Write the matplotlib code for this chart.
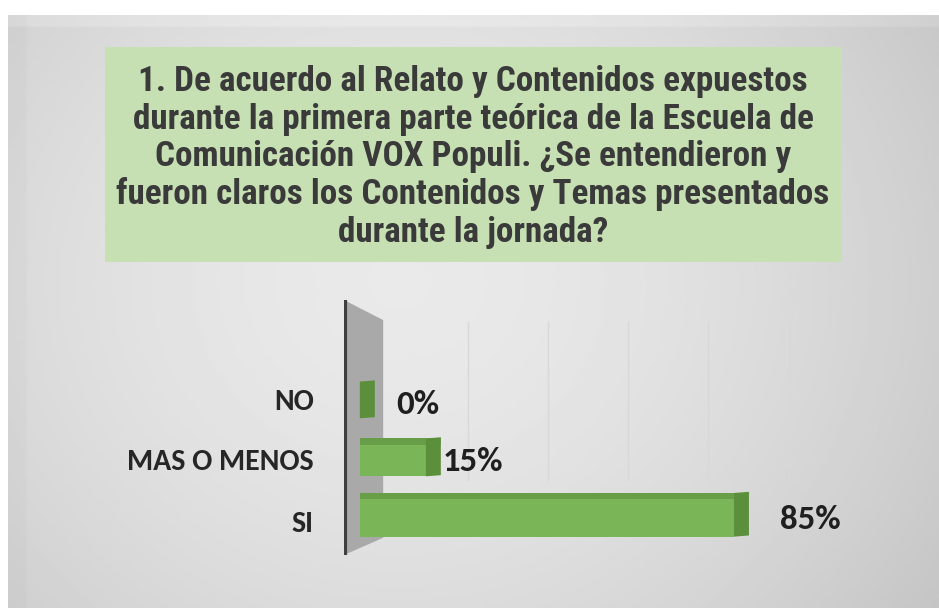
import numpy as np
import matplotlib.pyplot as plt
from matplotlib.patches import Polygon, Rectangle

categories = ["SI", "MAS O MENOS", "NO"]
values = [85, 15, 0]
value_labels = ["85%", "15%", "0%"]
title = ("1. De acuerdo al Relato y Contenidos expuestos\n"
         "durante la primera parte teórica de la Escuela de\n"
         "Comunicación VOX Populi. ¿Se entendieron y\n"
         "fueron claros los Contenidos y Temas presentados\n"
         "durante la jornada?")
grid_ticks = [20, 40, 60, 80, 100]

W, H = 939, 608
fig = plt.figure(figsize=(W / 100, H / 100), dpi=100)
fig.patch.set_facecolor("white")

# gray gradient panel behind everything
bg = fig.add_axes([8 / W, 0, 1 - 8 / W, (H - 15) / H])
yy, xx = np.mgrid[0:1:200j, 0:1:300j]
d = np.sqrt(((xx - 0.42) / 0.85) ** 2 + ((yy - 0.45) / 1.2) ** 2)
shade = 0.915 - 0.2 * d ** 1.7
shade[:, :6] -= 0.015
shade[:4, :] += 0.03
bg.imshow(np.clip(shade, 0.76, 0.95), cmap="gray", vmin=0, vmax=1,
          aspect="auto", extent=[0, 1, 0, 1], origin="upper")
bg.axis("off")

# title box
fig.patches.append(Rectangle((105 / W, (H - 262) / H), (842 - 105) / W, (262 - 47) / H,
                             transform=fig.transFigure, facecolor="#c6e0b4",
                             edgecolor="none", zorder=1))
fig.text(473 / W, (H - 157) / H, title, ha="center", va="center",
         family=["Roboto Condensed", "DejaVu Sans"], weight="bold",
         fontsize=25.3, color="#3a3a3a", linespacing=1.165, zorder=2)

# bar chart area
ax_l, ax_r, ax_t, ax_b = 344, 800, 300, 555
ax = fig.add_axes([ax_l / W, (H - ax_b) / H, (ax_r - ax_l) / W, (ax_b - ax_t) / H])
ax.patch.set_visible(False)
ax.set_xlim(-3.6, 100)
ax.set_ylim(-0.70, 3.74)
for s in ax.spines.values():
    s.set_visible(False)
ax.set_xticks([])
ax.set_yticks([])

# back wall + axis line
wall = Polygon([(-3.6, -0.70), (-3.6, 3.74), (5.3, 3.39), (5.3, -0.40)],
               closed=True, facecolor="#a9a9a9", edgecolor="none", zorder=1)
ax.add_patch(wall)
ax.plot([-3.3, -3.3], [-0.70, 3.74], color="#3f3f3f", lw=3, zorder=2,
        solid_capstyle="butt")

# faint gridlines on the back plane
for g in grid_ticks:
    gx = 6.4 + g * 0.91
    ax.plot([gx, gx], [0.6, 3.35], color="#d8d8d8", lw=1, zorder=0.5)

pos = np.arange(len(categories))
h = [0.76, 0.66, 0.64]
dx = 3.4
front = "#7ab658"
dark = "#5b8f3c"
ax.barh(pos, values, height=h, color=front, edgecolor="none", zorder=3)
for p, v, hh in zip(pos, values, h):
    # end face
    ax.add_patch(Polygon([(v, p - hh / 2), (v, p + hh / 2), (v + dx, p + hh / 2 + 0.02),
                          (v + dx, p - hh / 2 + 0.02)], closed=True,
                         facecolor=dark, edgecolor="none", zorder=3))
    # top edge
    if v > 0:
        ax.add_patch(Rectangle((0, p + hh / 2 - 0.11), v + dx, 0.11,
                               facecolor=dark, alpha=0.6, edgecolor="none", zorder=3))

label_pad = [7.1, 0.5, 4.8]
for p, v, lab, pad in zip(pos, values, value_labels, label_pad):
    ax.text(v + dx + pad, p - 0.08, lab, ha="left", va="center",
            family=["Carlito", "DejaVu Sans"], weight="bold", fontsize=25,
            color="#1f1f1f", zorder=4)

cat_dy = [-0.16, -0.08, -0.03]
for p, c, dy in zip(pos, categories, cat_dy):
    ax.text(-10.5, p + dy, c, ha="right", va="center",
            family=["Carlito", "DejaVu Sans"], weight="bold", fontsize=21.5,
            color="#262626", zorder=4)

fig.savefig("out.png", dpi=100)
